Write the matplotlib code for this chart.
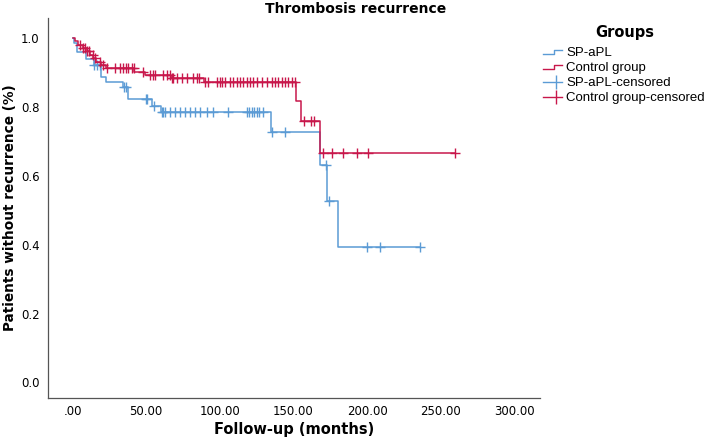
import numpy as np
import matplotlib
matplotlib.use("Agg")
import matplotlib.pyplot as plt
from matplotlib.lines import Line2D
from matplotlib.legend_handler import HandlerBase

# Kaplan-Meier steps (months, survival)
blue_t = [0, 0.8, 2.8, 9, 14.3, 19, 23, 34.5, 37.8, 53.8, 60, 135, 168, 173, 180]
blue_s = [1.0, 0.985, 0.957, 0.937, 0.921, 0.887, 0.872, 0.856, 0.821, 0.802, 0.783,
          0.725, 0.63, 0.525, 0.393]
blue_cens = [14.5, 16.4, 18.6, 34.9, 36.3, 49.9, 50.8, 55.3, 60.5, 61.6, 62.8, 66.2,
             69.6, 73, 76.4, 79.8, 83.2, 86.6, 91.1, 95.6, 105.8, 118.3, 120, 121.7,
             123.2, 125.1, 126.9, 129.6, 135.3, 144.3, 172, 174, 200, 209, 236]

red_t = [0, 1.5, 4, 7, 10, 12, 14, 16, 19, 23, 42, 49, 67, 89, 152, 155, 168]
red_s = [1.0, 0.99, 0.98, 0.97, 0.96, 0.95, 0.94, 0.93, 0.92, 0.912, 0.90, 0.892,
         0.883, 0.872, 0.815, 0.757, 0.665]
red_cens = [5.0, 7.3, 8.4, 10, 11.4, 13.6, 15.2, 18.6, 20.9, 23.2, 28.8, 32.2, 34.5,
            36.3, 37.8, 40.1, 41.7, 48, 52.6, 54.4, 56, 61.2, 63.9, 66.2, 67.3, 68.4,
            70.7, 74.1, 77.5, 82, 84.3, 86.1, 89.9, 92.2, 97.9, 100.1, 101.3, 103.5,
            106.9, 109.2, 111.4, 113.7, 116, 118.3, 120.5, 122.8, 125.1, 128.5, 131.9,
            135.3, 137.5, 139.8, 142.1, 144.3, 146.5, 148.8, 151.1, 157, 162, 164,
            170, 176, 184, 193, 201, 260]

labels = ["SP-aPL", "Control group", "SP-aPL-censored", "Control group-censored"]
xticks = [0, 50, 100, 150, 200, 250, 300]
yticks = [0.0, 0.2, 0.4, 0.6, 0.8, 1.0]

BLUE = "#5b9bd5"
RED = "#c8174b"


def step_value(t, s, x):
    idx = np.searchsorted(t, x, side="right") - 1
    return np.asarray(s)[idx]


class StepHandler(HandlerBase):
    def create_artists(self, legend, orig_handle, xdescent, ydescent, width, height,
                       fontsize, trans):
        x0 = -xdescent
        lo = -ydescent + height * 0.2
        hi = -ydescent + height * 0.65
        xm = x0 + width * 0.55
        ln = Line2D([x0, xm, xm, x0 + width], [lo, lo, hi, hi],
                    color=orig_handle.get_color(), lw=1.0)
        ln.set_transform(trans)
        return [ln]


class CensHandler(HandlerBase):
    def create_artists(self, legend, orig_handle, xdescent, ydescent, width, height,
                       fontsize, trans):
        x0 = -xdescent
        y = -ydescent + height * 0.4
        ln = Line2D([x0, x0 + width], [y, y], color=orig_handle.get_color(), lw=1.0)
        mk = Line2D([x0 + width * 0.68], [y], color=orig_handle.get_color(),
                    marker="|", markersize=10, mew=1.0, ls="none")
        ln.set_transform(trans)
        mk.set_transform(trans)
        return [ln, mk]


fig = plt.figure(figsize=(7.11, 4.42), dpi=100)
ax = fig.add_axes([48 / 711, 1 - 398 / 442, (540 - 48) / 711, (398 - 18) / 442])

for t, s, cens, col in [(blue_t, blue_s, blue_cens, BLUE), (red_t, red_s, red_cens, RED)]:
    tt = list(t) + [max(cens)]
    ss = list(s) + [s[-1]]
    ax.step(tt, ss, where="post", color=col, lw=1.1)
    ax.plot(cens, step_value(t, s, cens), ls="none", marker="+", color=col,
            markersize=6.5, mew=1.0)

ax.set_xlim(-16.7, 317.5)
ax.set_ylim(-0.045, 1.057)
ax.set_xticks(xticks)
ax.set_xticklabels([".00" if v == 0 else f"{v:.2f}" for v in xticks], fontsize=8.5)
ax.set_yticks(yticks)
ax.set_yticklabels([f"{v:.1f}" for v in yticks], fontsize=8.5)
ax.tick_params(length=0)
ax.tick_params(axis="x", pad=5)
ax.tick_params(axis="y", pad=6)
for side in ["top", "right"]:
    ax.spines[side].set_visible(False)
for side in ["left", "bottom"]:
    ax.spines[side].set_color("#555555")
    ax.spines[side].set_linewidth(0.9)

ax.set_xlabel("Follow-up (months)", fontsize=10.5, fontweight="bold", labelpad=3)
ax.set_ylabel("Patients without recurrence (%)", fontsize=9.8, fontweight="bold")
ax.yaxis.set_label_coords((17 - 48) / 492, 0.5)
fig.text(0.5, 1 - 9 / 442, "Thrombosis recurrence", ha="center", va="center",
         fontsize=10, fontweight="bold")
fig.text(625 / 711, 1 - 33 / 442, "Groups", ha="center", va="center",
         fontsize=10.5, fontweight="bold")

h_blue = Line2D([], [], color=BLUE)
h_red = Line2D([], [], color=RED)
h_bc = Line2D([], [], color=BLUE)
h_rc = Line2D([], [], color=RED)
leg = fig.legend([h_blue, h_red, h_bc, h_rc], labels,
                 handler_map={h_blue: StepHandler(), h_red: StepHandler(),
                              h_bc: CensHandler(), h_rc: CensHandler()},
                 loc="upper left", bbox_to_anchor=(543 / 711, 1 - 47 / 442),
                 frameon=False, borderpad=0, borderaxespad=0, handlelength=1.45,
                 handletextpad=0.3, labelspacing=0.2,
                 prop={"family": ["Liberation Sans", "DejaVu Sans"], "size": 9.5})

fig.savefig("out.png", dpi=100)
